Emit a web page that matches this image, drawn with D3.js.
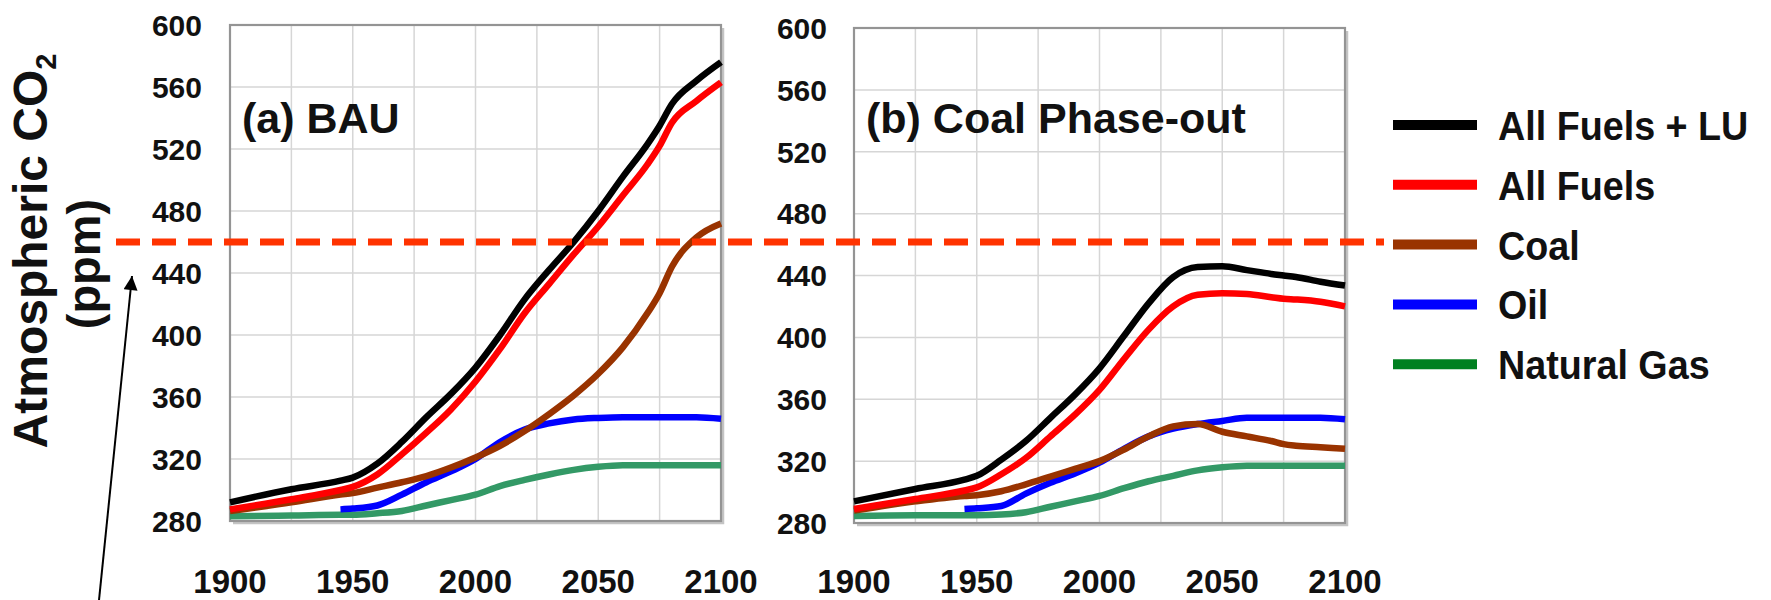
<!DOCTYPE html>
<html lang="en">
<head>
    <meta charset="UTF-8">
    <title>Atmospheric CO2 - BAU vs Coal Phase-out</title>
    <script src="https://cdnjs.cloudflare.com/ajax/libs/d3/7.8.5/d3.min.js"></script>
    <style>
        body { margin: 0; background: #fff; }
        svg { display: block; font-family: "Liberation Sans", Arial, sans-serif; }
    </style>
</head>
<body>
    <div id="chart"></div>

    <script>
        // Data
        const years = [1900, 1925, 1945, 1950, 1960, 1970, 1980, 1990, 2000, 2010, 2020, 2030, 2040, 2050, 2060, 2070, 2075, 2080, 2090, 2100];

        const seriesNames = ["All Fuels + LU", "All Fuels", "Coal", "Oil", "Natural Gas"];

        // (a) BAU
        const bauAllLU  = [292, 300.5, 306, 308, 317, 331, 347, 362, 379, 400, 423, 442, 460, 480, 502, 523, 535, 549, 564, 576];
        const bauAll    = [287.5, 294, 300, 302, 310, 323, 337, 352, 370, 391, 414, 433, 452, 470, 490, 510, 522, 537, 551, 563];
        const bauCoal   = [286.5, 292, 297, 298, 301.5, 305, 309, 314.5, 321, 328.5, 338, 349, 361, 375, 392, 414, 427, 444, 463, 472];
        const bauOil    = [null, null, 287.5, 288, 290, 297, 305, 312, 320, 331, 339, 343, 345.5, 346.5, 347, 347, 347, 347, 347, 346];
        const bauGas    = [283, 283.5, 284, 284, 285, 286.5, 290, 293.5, 297, 302.5, 306.5, 310, 313, 315, 316, 316, 316, 316, 316, 316];

        // (b) Coal phase-out
        const coalAllLU = [294, 302, 308, 310.5, 321, 333, 348, 363, 380, 401, 422, 439, 445.5, 446, 443.5, 441, 440, 439, 436, 433.5];
        const coalAll   = [289, 295.5, 301, 303, 311.5, 322, 336, 350, 366, 386, 405, 420, 427.5, 428.5, 428, 426, 425, 424.5, 423, 420];
        const coalCoal  = [288, 294, 297.5, 298, 300.5, 305, 310, 315, 320, 327.5, 336, 342.5, 344, 339, 336, 333, 331, 330, 329, 328];
        const coalOil   = [null, null, 289, 289.5, 291, 299, 306, 312, 319, 328, 336, 341, 344, 346, 348, 348, 348, 348, 348, 347];
        const coalGas   = [284.5, 285, 285, 285, 285.5, 287, 290.5, 294, 297.5, 302.5, 307, 310.5, 314, 316, 317, 317, 317, 317, 317, 317];

        const panelTitles = ["(a) BAU", "(b) Coal Phase-out"];
        const yTicks = [280, 320, 360, 400, 440, 480, 520, 560, 600];
        const xTicks = [1900, 1950, 2000, 2050, 2100];
        const xGrid = [1925, 1950, 1975, 2000, 2025, 2050, 2075];
        const threshold = 460;

        // Styles
        const lineColors = ["#000000", "#ff0000", "#993300", "#0000ff", "#339966"];
        const legendColors = ["#000000", "#ff0000", "#993300", "#0000ff", "#008020"];

        const width = 1771;
        const height = 600;

        const svg = d3.select("#chart")
            .append("svg")
            .attr("width", width)
            .attr("height", height);

        const panels = [
            { x0: 230, x1: 721, y0: 25, y1: 521, labelX: 202, title: panelTitles[0],
              series: [bauAllLU, bauAll, bauCoal, bauOil, bauGas] },
            { x0: 854, x1: 1345, y0: 28, y1: 523, labelX: 827, title: panelTitles[1],
              series: [coalAllLU, coalAll, coalCoal, coalOil, coalGas] }
        ];

        let thresholdY = 0;

        panels.forEach((p, pi) => {
            const x = d3.scaleLinear().domain([1900, 2100]).range([p.x0, p.x1]);
            const y = d3.scaleLinear().domain([280, 600]).range([p.y1, p.y0]);
            if (pi === 0) thresholdY = y(threshold);

            const g = svg.append("g");

            // Gridlines
            g.selectAll("line.hgrid")
                .data(yTicks.slice(1, -1))
                .enter().append("line")
                .attr("x1", p.x0).attr("x2", p.x1)
                .attr("y1", d => y(d)).attr("y2", d => y(d))
                .attr("stroke", "#d6d6d6")
                .attr("stroke-width", 1.5);

            g.selectAll("line.vgrid")
                .data(xGrid)
                .enter().append("line")
                .attr("x1", d => x(d)).attr("x2", d => x(d))
                .attr("y1", p.y0).attr("y2", p.y1)
                .attr("stroke", "#d6d6d6")
                .attr("stroke-width", 1.5);

            // Frame shadow + frame
            g.append("path")
                .attr("d", `M${p.x1 + 2},${p.y0 + 3} V${p.y1 + 2} H${p.x0 + 3}`)
                .attr("fill", "none")
                .attr("stroke", "#c4c4c4")
                .attr("stroke-width", 2.5);

            g.append("rect")
                .attr("x", p.x0).attr("y", p.y0)
                .attr("width", p.x1 - p.x0).attr("height", p.y1 - p.y0)
                .attr("fill", "none")
                .attr("stroke", "#949494")
                .attr("stroke-width", 2.2);

            // Y tick labels
            g.selectAll("text.ytick")
                .data(yTicks)
                .enter().append("text")
                .attr("x", p.labelX)
                .attr("y", d => y(d))
                .attr("dy", "0.36em")
                .attr("text-anchor", "end")
                .style("font-size", "30px")
                .style("font-weight", "bold")
                .attr("fill", "#111")
                .text(d => d);

            // X tick labels
            g.selectAll("text.xtick")
                .data(xTicks)
                .enter().append("text")
                .attr("x", d => x(d))
                .attr("y", 593)
                .attr("text-anchor", "middle")
                .style("font-size", "33px")
                .style("font-weight", "bold")
                .attr("fill", "#111")
                .text(d => d);

            // Series lines (gas first, total last on top)
            const line = d3.line()
                .defined(d => d[1] != null)
                .x(d => x(d[0]))
                .y(d => y(d[1]))
                .curve(d3.curveMonotoneX);

            const order = [4, 3, 2, 1, 0];
            order.forEach(si => {
                g.append("path")
                    .datum(years.map((yr, i) => [yr, p.series[si][i]]))
                    .attr("d", line)
                    .attr("fill", "none")
                    .attr("stroke", lineColors[si])
                    .attr("stroke-width", 6.5)
                    .attr("stroke-linejoin", "round");
            });

            // Panel title
            g.append("text")
                .attr("x", p.x0 + 12)
                .attr("y", 133)
                .style("font-size", "43px")
                .style("font-weight", "bold")
                .attr("fill", "#111")
                .text(p.title);
        });

        // Threshold dashed line
        svg.append("line")
            .attr("x1", 116).attr("x2", 1384)
            .attr("y1", thresholdY).attr("y2", thresholdY)
            .attr("stroke", "#ff3300")
            .attr("stroke-width", 7)
            .attr("stroke-dasharray", "24,12");

        // Y axis title
        const yTitle = svg.append("text")
            .attr("transform", "translate(47,251) rotate(-90)")
            .attr("text-anchor", "middle")
            .style("font-size", "48px")
            .style("font-weight", "bold")
            .attr("fill", "#111");
        yTitle.append("tspan").text("Atmospheric CO");
        yTitle.append("tspan")
            .attr("dy", 9)
            .style("font-size", "29px")
            .text("2");

        svg.append("text")
            .attr("transform", "translate(100,264) rotate(-90)")
            .attr("text-anchor", "middle")
            .style("font-size", "47px")
            .style("font-weight", "bold")
            .attr("fill", "#111")
            .text("(ppm)");

        // Arrow pointing at the threshold
        svg.append("defs").append("marker")
            .attr("id", "arrowhead")
            .attr("viewBox", "0 0 10 10")
            .attr("refX", 10).attr("refY", 5)
            .attr("markerWidth", 8).attr("markerHeight", 7)
            .attr("markerUnits", "strokeWidth")
            .attr("orient", "auto")
            .append("path")
            .attr("d", "M0,0 L10,5 L0,10 Z")
            .attr("fill", "#000");

        svg.append("line")
            .attr("x1", 98).attr("y1", 610)
            .attr("x2", 132).attr("y2", 276)
            .attr("stroke", "#000")
            .attr("stroke-width", 2)
            .attr("marker-end", "url(#arrowhead)");

        // Legend
        const legend = svg.append("g")
            .attr("transform", "translate(1393,125)");

        const legendItems = legend.selectAll(".legend-item")
            .data(seriesNames)
            .enter()
            .append("g")
            .attr("class", "legend-item")
            .attr("transform", (d, i) => `translate(0, ${i * 59.8})`);

        legendItems.append("line")
            .attr("x1", 0).attr("x2", 84)
            .attr("y1", 0).attr("y2", 0)
            .attr("stroke", (d, i) => legendColors[i])
            .attr("stroke-width", 10);

        legendItems.append("text")
            .attr("transform", "translate(105,15) scale(0.92,1)")
            .style("font-size", "41px")
            .style("font-weight", "bold")
            .attr("fill", "#111")
            .text(d => d);
    </script>
</body>
</html>
